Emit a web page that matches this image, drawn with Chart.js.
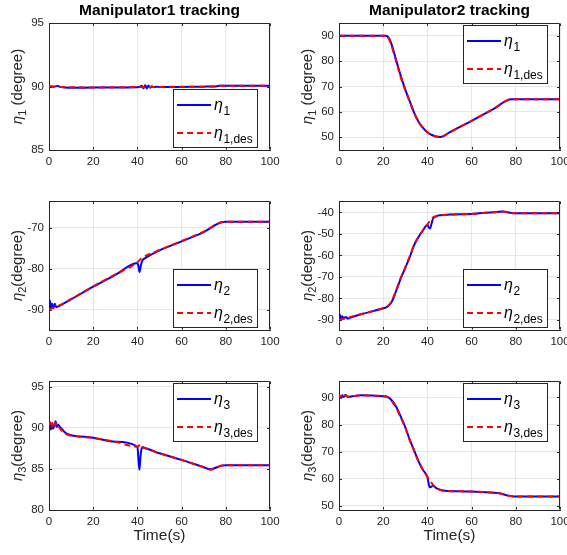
<!DOCTYPE html>
<html><head><meta charset="utf-8">
<script src="https://cdn.jsdelivr.net/npm/chart.js@4.4.1/dist/chart.umd.min.js"></script>
<style>
html,body{margin:0;padding:0;background:#fff;}
#wrap{position:relative;width:567px;height:555px;overflow:hidden;background:#fff;}
#wrap canvas{position:absolute;left:0;top:0;}
</style></head><body><div id="wrap"></div>
<script>
// ---------- DATA ----------
const xTicks = [0, 20, 40, 60, 80, 100];

// Manipulator1, eta1
const m1e1DesT = [0, 5, 10, 20, 30, 40, 50, 60, 70, 75, 77, 80, 90, 100];
const m1e1DesV = [90, 89.97, 89.94, 89.93, 89.94, 89.96, 89.97, 89.98, 89.99, 90.0, 90.05, 90.06, 90.06, 90.06];
const m1e1T = [0, 2, 4, 5, 7, 10, 20, 30, 40, 41, 42, 42.8, 43.5, 44.3, 45, 45.8, 46.5, 47.5, 48.5, 50, 60, 70, 75, 77, 80, 90, 100];
const m1e1V = [90, 89.98, 90.04, 89.97, 89.92, 89.9, 89.92, 89.93, 89.95, 89.98, 90.06, 89.86, 90.1, 89.85, 90.08, 89.9, 90.02, 89.94, 89.98, 89.96, 89.97, 89.99, 90.0, 90.05, 90.06, 90.06, 90.06];
const m1e1Ticks = [85, 90, 95];

// Manipulator2, eta1
const m2e1DesT = [0, 21, 22, 23, 24, 25, 26, 28, 30, 32, 34, 36, 38, 40, 42, 44, 46, 47, 50, 60, 70, 78, 80, 100];
const m2e1DesV = [90, 90, 89.5, 88, 85.5, 82.5, 79.5, 73.5, 68.5, 64, 59.5, 56, 53.6, 52, 50.8, 50.2, 50, 50.3, 51.8, 56.5, 61.2, 65, 65, 65];
const m2e1T = [0, 21, 22, 23, 24, 25, 26, 28, 30, 32, 34, 36, 38, 40, 42, 44, 46, 47, 50, 60, 70, 78, 80, 100];
const m2e1V = [90, 90, 89.7, 88.4, 86, 83, 80, 74, 68.8, 64.2, 59.7, 56.1, 53.7, 52, 50.9, 50.3, 50.1, 50.4, 51.9, 56.5, 61.2, 65, 65, 65];
const m2e1Ticks = [50, 60, 70, 80, 90];

// Manipulator1, eta2
const m1e2DesT = [0, 5, 10, 20, 30, 40, 41.5, 50, 60, 70, 78, 80, 100];
const m1e2DesV = [-90, -88.9, -87.4, -84.3, -81.4, -78.4, -77.6, -75.4, -73.2, -70.9, -68.6, -68.5, -68.5];
const m1e2T = [0, 0.4, 0.9, 1.4, 2, 2.6, 3.3, 4.2, 5, 10, 20, 30, 40, 40.5, 41, 41.6, 42.5, 43.5, 50, 60, 70, 78, 80, 100];
const m1e2V = [-90.5, -87.8, -89.6, -88.6, -89.6, -88.6, -89.4, -89.2, -89, -87.5, -84.4, -81.5, -78.6, -79.5, -80.8, -79, -77.8, -77.4, -75.5, -73.3, -71, -68.6, -68.5, -68.5];
const m1e2Ticks = [-90, -80, -70];

// Manipulator2, eta2
const m2e2DesT = [0, 5, 10, 20, 22, 24, 26, 28, 30, 32, 34, 36, 38, 40, 42, 44, 46, 50, 60, 70, 74, 78, 80, 100];
const m2e2DesV = [-90, -88.7, -87.3, -84.5, -83.6, -81, -75.8, -70.3, -65.5, -60.6, -55, -51.3, -48.3, -45.6, -42.8, -41.8, -41.3, -41, -40.7, -39.9, -39.6, -40.3, -40.4, -40.4];
const m2e2T = [0, 0.4, 0.9, 1.5, 2.2, 3, 4, 5, 10, 20, 22, 24, 26, 28, 30, 32, 34, 36, 38, 40, 40.6, 41.2, 41.8, 42.5, 44, 46, 50, 60, 70, 74, 78, 80, 100];
const m2e2V = [-90.5, -87.5, -89.5, -88.3, -89.3, -88.6, -89.4, -89, -87.4, -84.6, -83.8, -81.3, -76.2, -70.6, -65.8, -60.8, -55.2, -51.4, -48.4, -45.8, -47, -47.5, -45.5, -43, -41.8, -41.3, -41, -40.7, -39.9, -39.6, -40.3, -40.4, -40.4];
const m2e2Ticks = [-90, -80, -70, -60, -50, -40];

// Manipulator1, eta3
const m1e3DesT = [0, 0.5, 1, 1.5, 2, 2.5, 3, 3.5, 4, 5, 6, 7, 8, 10, 20, 30, 40, 41.5, 42, 45, 50, 60, 70, 73, 76, 78, 80, 100];
const m1e3DesV = [90.3, 90.7, 90.0, 90.6, 90.1, 90.4, 90.6, 90.1, 90.2, 89.9, 89.6, 89.4, 89.2, 89.05, 88.75, 88.3, 87.7, 88.0, 87.8, 87.4, 86.9, 86.1, 85.2, 84.9, 85.2, 85.4, 85.45, 85.45];
const m1e3T = [0, 0.4, 0.8, 1.3, 1.8, 2.4, 3, 3.5, 4, 5, 6, 7, 8, 10, 20, 30, 40, 40.4, 40.9, 41.4, 42, 45, 50, 60, 70, 73, 76, 78, 80, 100];
const m1e3V = [90, 90.6, 89.8, 90.5, 89.9, 90.2, 90.8, 90.1, 90.4, 90.1, 89.8, 89.5, 89.3, 89.1, 88.8, 88.3, 87.7, 86.5, 84.9, 86.5, 87.6, 87.4, 86.9, 86.1, 85.2, 84.95, 85.2, 85.4, 85.45, 85.45];
const m1e3Ticks = [80, 85, 90, 95];

// Manipulator2, eta3
const m2e3DesT = [0, 0.5, 1, 1.5, 2, 2.5, 3, 4, 5, 7, 10, 15, 20, 22, 24, 26, 28, 30, 32, 34, 36, 38, 40, 42.5, 44, 46, 48, 55, 60, 70, 73, 76, 79, 80, 100];
const m2e3DesV = [90, 90.7, 90.1, 91, 90.4, 90.7, 90.9, 90.3, 90.4, 90.6, 90.8, 90.7, 90.5, 90.1, 88.5, 86, 82.5, 78.8, 74.2, 70.3, 66.3, 63.2, 60.7, 57.8, 56.5, 55.8, 55.5, 55.3, 55.2, 54.8, 54.5, 53.8, 53.4, 53.35, 53.35];
const m2e3T = [0, 0.5, 1, 1.5, 2, 2.5, 3, 4, 5, 7, 10, 15, 20, 22, 24, 26, 28, 30, 32, 34, 36, 38, 40, 40.5, 41, 41.7, 42.5, 44, 46, 48, 55, 60, 70, 73, 76, 79, 80, 100];
const m2e3V = [90, 90.4, 89.8, 90.8, 90.2, 90.5, 90.9, 90.2, 90.3, 90.6, 90.8, 90.7, 90.5, 90.2, 88.8, 86.4, 82.8, 79, 74.4, 70.4, 66.4, 63.2, 60.5, 58.5, 56.8, 57, 57.4, 56.5, 55.8, 55.5, 55.3, 55.2, 54.8, 54.5, 53.8, 53.4, 53.35, 53.35];
const m2e3Ticks = [50, 60, 70, 80, 90];

const titles = ['Manipulator1 tracking', 'Manipulator2 tracking'];
const xTitle = 'Time(s)';

// ---------- LAYOUT / STYLE ----------
const FONT = '"Liberation Sans", Arial, Helvetica, sans-serif';
const CW = 600, CH = 555, YW = 40, XH = 20;
const TXT = '#262626';
const GRID = '#e6e6e6';

const panels = [
  {L:49, R:270, T:23, B:150, ymin:85, ymax:95, ticks:m1e1Ticks, dT:m1e1DesT, dV:m1e1DesV, aT:m1e1T, aV:m1e1V, k:'1', space:true, leg:'br', title:titles[0]},
  {L:339, R:560, T:23, B:150, ymin:45, ymax:95, ticks:m2e1Ticks, dT:m2e1DesT, dV:m2e1DesV, aT:m2e1T, aV:m2e1V, k:'1', space:true, leg:'tr', title:titles[1]},
  {L:49, R:270, T:201, B:330, ymin:-95, ymax:-63.4, ticks:m1e2Ticks, dT:m1e2DesT, dV:m1e2DesV, aT:m1e2T, aV:m1e2V, k:'2', space:false, leg:'br'},
  {L:339, R:560, T:201, B:330, ymin:-94.7, ymax:-34.7, ticks:m2e2Ticks, dT:m2e2DesT, dV:m2e2DesV, aT:m2e2T, aV:m2e2V, k:'2', space:false, leg:'br'},
  {L:49, R:270, T:381, B:510, ymin:80, ymax:95.7, ticks:m1e3Ticks, dT:m1e3DesT, dV:m1e3DesV, aT:m1e3T, aV:m1e3V, k:'3', space:false, leg:'tr', xlab:true},
  {L:339, R:560, T:381, B:510, ymin:48.4, ymax:96.1, ticks:m2e3Ticks, dT:m2e3DesT, dV:m2e3DesV, aT:m2e3T, aV:m2e3V, k:'3', space:false, leg:'tr', xlab:true}
];

const pts = (T, V) => T.map((t, i) => ({x: t, y: V[i]}));

const deco = {
  id: 'deco',
  afterDatasetsDraw(chart, args, o) {
    const {ctx, chartArea: a, scales} = chart;
    const p = o.p;
    ctx.save();
    // top & right box edges
    ctx.strokeStyle = TXT; ctx.lineWidth = 1;
    const l = Math.round(a.left) + 0.5, r = Math.round(a.right) - 0.5;
    const t = Math.round(a.top) + 0.5, b = Math.round(a.bottom) - 0.5;
    ctx.beginPath();
    ctx.moveTo(l, t); ctx.lineTo(r, t); ctx.lineTo(r, b);
    // inward ticks
    xTicks.forEach(v => {
      const x = Math.round(scales.x.getPixelForValue(v)) + 0.5;
      ctx.moveTo(x, b); ctx.lineTo(x, b - 2.5);
      ctx.moveTo(x, t); ctx.lineTo(x, t + 2.5);
    });
    p.ticks.forEach(v => {
      const y = Math.round(scales.y.getPixelForValue(v)) + 0.5;
      ctx.moveTo(l, y); ctx.lineTo(l + 2.5, y);
      ctx.moveTo(r, y); ctx.lineTo(r - 2.5, y);
    });
    ctx.stroke();

    // legend
    const bw = 84, bh = 58;
    const bx = Math.round(a.right) - 13 - bw;
    const by = p.leg === 'br' ? Math.round(a.bottom) - 3 - bh : Math.round(a.top) + 2;
    ctx.fillStyle = '#fff';
    ctx.fillRect(bx, by, bw, bh);
    ctx.strokeStyle = TXT; ctx.lineWidth = 1;
    ctx.strokeRect(bx + 0.5, by + 0.5, bw, bh);
    const rows = [{y: by + 16, c: '#0000ff', dash: [], sub: p.k}, {y: by + 44, c: '#ff0000', dash: [6, 4], sub: p.k + ',des'}];
    rows.forEach(rw => {
      ctx.beginPath();
      ctx.setLineDash(rw.dash);
      ctx.strokeStyle = rw.c; ctx.lineWidth = 2;
      ctx.moveTo(bx + 4, rw.y); ctx.lineTo(bx + 38, rw.y);
      ctx.stroke();
      ctx.setLineDash([]);
      ctx.fillStyle = '#000';
      ctx.textAlign = 'left'; ctx.textBaseline = 'alphabetic';
      ctx.font = 'italic 16px ' + FONT;
      const ex = bx + 41;
      ctx.fillText('\u03B7', ex, rw.y + 5);
      const ew = ctx.measureText('\u03B7').width;
      ctx.font = '12px ' + FONT;
      ctx.fillText(rw.sub, ex + ew + 0.5, rw.y + 10);
    });

    // y label (rotated)
    ctx.save();
    ctx.translate(a.left - 27, (a.top + a.bottom) / 2);
    ctx.rotate(-Math.PI / 2);
    ctx.fillStyle = TXT; ctx.textBaseline = 'alphabetic'; ctx.textAlign = 'left';
    const f1 = 'italic 15px ' + FONT, f2 = '11px ' + FONT, f3 = '15px ' + FONT;
    const rest = (p.space ? ' ' : '') + '(degree)';
    ctx.font = f1; const w1 = ctx.measureText('\u03B7').width;
    ctx.font = f2; const w2 = ctx.measureText(p.k).width;
    ctx.font = f3; const w3 = ctx.measureText(rest).width;
    let x0 = -(w1 + w2 + w3) / 2;
    ctx.font = f1; ctx.fillText('\u03B7', x0, 0); x0 += w1;
    ctx.font = f2; ctx.fillText(p.k, x0, 3.5); x0 += w2;
    ctx.font = f3; ctx.fillText(rest, x0, 0);
    ctx.restore();

    // title
    const cx = (a.left + a.right) / 2;
    if (p.title) {
      ctx.fillStyle = '#000'; ctx.textAlign = 'center'; ctx.textBaseline = 'alphabetic';
      ctx.font = 'bold 15.5px ' + FONT;
      ctx.fillText(p.title, cx, 15);
    }
    if (p.xlab) {
      ctx.fillStyle = TXT; ctx.textAlign = 'center'; ctx.textBaseline = 'alphabetic';
      ctx.font = '15.5px ' + FONT;
      ctx.fillText(xTitle, cx, 540);
    }
    ctx.restore();
  }
};

const wrap = document.getElementById('wrap');
panels.forEach((p, i) => {
  const cv = document.createElement('canvas');
  cv.width = CW; cv.height = CH;
  cv.style.width = CW + 'px'; cv.style.height = CH + 'px';
  wrap.appendChild(cv);
  new Chart(cv.getContext('2d'), {
    type: 'line',
    data: {
      datasets: [
        {label: 'des', data: pts(p.dT, p.dV), borderColor: '#ff0000', borderWidth: 2, borderDash: [6, 4], pointRadius: 0, fill: false, cubicInterpolationMode: 'monotone', order: 0},
        {label: 'act', data: pts(p.aT, p.aV), borderColor: '#0000ff', borderWidth: 2, pointRadius: 0, fill: false, cubicInterpolationMode: 'monotone', order: 1}
      ]
    },
    options: {
      responsive: false, animation: false, devicePixelRatio: 1,
      layout: {padding: {left: p.L - YW, right: CW - p.R, top: p.T, bottom: CH - p.B - XH}},
      plugins: {legend: {display: false}, tooltip: {enabled: false}, deco: {p: p}},
      scales: {
        x: {
          type: 'linear', min: 0, max: 100,
          afterFit: s => { s.height = XH; },
          afterBuildTicks: s => { s.ticks = xTicks.map(v => ({value: v})); },
          ticks: {color: TXT, font: {family: FONT, size: 11.5}, padding: 5, maxRotation: 0, autoSkip: false},
          grid: {color: GRID, drawTicks: false, lineWidth: 1},
          border: {color: TXT, width: 1}
        },
        y: {
          type: 'linear', min: p.ymin, max: p.ymax,
          afterFit: s => { s.width = YW; },
          afterBuildTicks: s => { s.ticks = p.ticks.map(v => ({value: v})); },
          ticks: {color: TXT, font: {family: FONT, size: 11.5}, padding: 5, autoSkip: false},
          grid: {color: GRID, drawTicks: false, lineWidth: 1},
          border: {color: TXT, width: 1}
        }
      }
    },
    plugins: [deco]
  });
});
</script>
</body></html>
